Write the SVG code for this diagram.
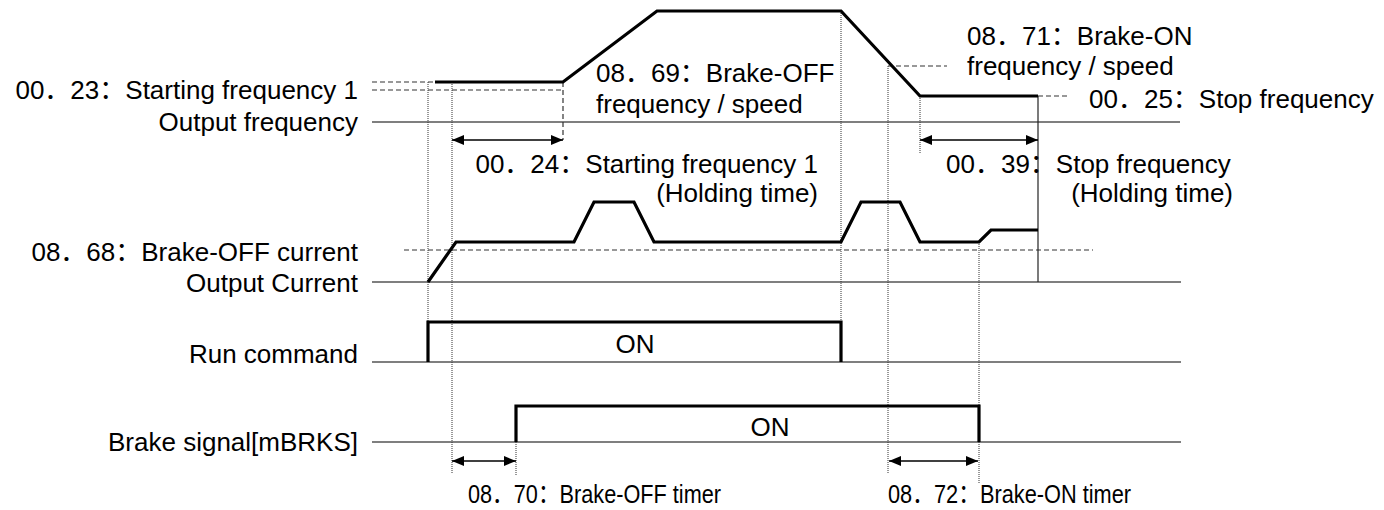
<svg xmlns="http://www.w3.org/2000/svg" width="1384" height="510" viewBox="0 0 1384 510">
<style>
text{font-family:"Liberation Sans","Noto Sans CJK SC",Arial,sans-serif;font-size:26px;fill:#000}
.end{text-anchor:end}
.mid{text-anchor:middle}
.axis{stroke:#555;stroke-width:1.5;fill:none}
.thick{stroke:#000;stroke-width:3.2;fill:none;stroke-linejoin:miter}
.dot{stroke:#333;stroke-width:1;stroke-dasharray:1 1;fill:none}
.dash{stroke:#333;stroke-width:1.2;stroke-dasharray:5 3;fill:none}
.thin{stroke:#222;stroke-width:1.2;fill:none}
.arr{stroke:#000;stroke-width:1.5;fill:none;marker-start:url(#ah);marker-end:url(#ah)}
</style>
<defs>
<marker id="ah" viewBox="0 0 12 10" refX="12" refY="5" markerWidth="12" markerHeight="10" markerUnits="userSpaceOnUse" orient="auto-start-reverse">
<path d="M0,0 L12,5 L0,10 Z" fill="#000"/>
</marker>
</defs>
<g id="axes">
<line class="axis" x1="372" y1="122" x2="1180" y2="122"/>
<line class="axis" x1="372" y1="282" x2="1181" y2="282"/>
<line class="axis" x1="372" y1="362" x2="1181" y2="362"/>
<line class="axis" x1="372" y1="442" x2="1181" y2="442"/>
</g>
<g id="connectors">
<line class="dash" x1="372" y1="82" x2="433" y2="82"/>
<line class="dash" x1="372" y1="90" x2="563" y2="90"/>
<line class="dash" x1="563" y1="82" x2="563" y2="140"/>
<line class="dash" x1="888" y1="66" x2="947" y2="66"/>
<line class="dash" x1="1038" y1="96" x2="1067" y2="96"/>
<line class="dash" x1="404" y1="250" x2="1093" y2="250"/>
<line class="dot" x1="428" y1="82" x2="428" y2="362"/>
<line class="dot" x1="452" y1="82" x2="452" y2="473"/>
<line class="dot" x1="841" y1="11" x2="841" y2="362"/>
<line class="dot" x1="888" y1="66" x2="888" y2="473"/>
<line class="dot" x1="920" y1="96" x2="920" y2="153"/>
<line class="dot" x1="979" y1="242" x2="979" y2="483"/>
<line class="dot" x1="516" y1="406" x2="516" y2="475"/>
<line class="thin" x1="1038" y1="96" x2="1038" y2="282"/>
<line class="arr" x1="452" y1="140" x2="563" y2="140"/>
<line class="arr" x1="920" y1="140" x2="1038" y2="140"/>
<line class="arr" x1="452" y1="461" x2="516" y2="461"/>
<line class="arr" x1="889" y1="461" x2="978" y2="461"/>
</g>
<g id="waveforms">
<polyline class="thick" points="435,82 563,82 657,11 841,11 920,96 1038,96"/>
<polyline class="thick" points="428,282 456,242 574,242 594,202 634,202 654,242 841,242 861,202 900,202 920,242 979,242 991,230 1038,230"/>
<polyline class="thick" points="428,362 428,322 841,322 841,362"/>
<polyline class="thick" points="516,442 516,406 979,406 979,442"/>
</g>
<g id="labels">
<text class="end" x="358" y="99">00．23：Starting frequency 1</text>
<text class="end" x="358" y="131">Output frequency</text>
<text class="end" x="358" y="261">08．68：Brake-OFF current</text>
<text class="end" x="358" y="292">Output Current</text>
<text class="end" x="358" y="363">Run command</text>
<text class="end" x="358" y="451">Brake signal[mBRKS]</text>
<text class="mid" x="635" y="353">ON</text>
<text class="mid" x="770" y="436">ON</text>
<text x="596" y="82">08．69：Brake-OFF</text>
<text x="596" y="113">frequency / speed</text>
<text x="967" y="45">08．71：Brake-ON</text>
<text x="967" y="75">frequency / speed</text>
<text x="1089" y="108">00．25：Stop frequency</text>
<text class="end" x="818" y="173">00．24：Starting frequency 1</text>
<text class="end" x="818" y="202">(Holding time)</text>
<text x="946" y="173">00．39：Stop frequency</text>
<text class="end" x="1233" y="202">(Holding time)</text>
<text x="468" y="503" textLength="253" lengthAdjust="spacingAndGlyphs">08．70：Brake-OFF timer</text>
<text x="888" y="503" textLength="243" lengthAdjust="spacingAndGlyphs">08．72：Brake-ON timer</text>
</g>
</svg>
